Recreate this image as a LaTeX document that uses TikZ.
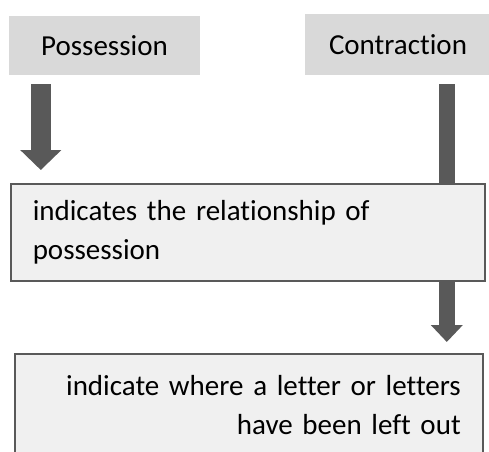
\documentclass[tikz,border=0pt]{standalone}
\usepackage{fontspec}
\setmainfont{Carlito}[Ligatures=NoCommon]
\usetikzlibrary{positioning,arrows.meta,backgrounds}

\newlength\unitL
\setlength\unitL{1pt}

\definecolor{headgray}{HTML}{D9D9D9}
\definecolor{boxgray}{HTML}{F0F0F0}
\definecolor{arrowgray}{HTML}{595959}

\begin{document}
\begin{tikzpicture}[x=\unitL, y=-\unitL, font=\fontsize{29}{39}\selectfont,
		headbox/.style={fill=headgray, inner sep=0pt},
		defbox/.style={draw=arrowgray, line width=1.5pt, fill=boxgray, inner xsep=22pt, inner ysep=0pt},
		bigarrow/.style={draw=arrowgray, line width=20pt, -{Triangle[length=20pt, width=40pt]}},
		slimarrow/.style={draw=arrowgray, line width=16pt, -{Triangle[length=17pt, width=31pt]}}]
	
	% === Page frame ===
	\useasboundingbox (0,0) rectangle (489,451);
	\clip (0,0) rectangle (489,451);
	
	% === Headings ===
	\node[headbox, minimum width=191pt, minimum height=59pt] (poss) at (104.5,45.5) {Possession};
	\node[headbox, minimum width=186pt, minimum height=61pt] (contr) at (398,44.5) {Contraction};
	
	% === Definitions ===
	\node[defbox, anchor=north west, text width=430pt, align=left, minimum height=97pt] (rel) at (10,183)
		{indicates the relationship of\\possession};
	\node[defbox, anchor=north west, text width=424pt, align=right, minimum height=102pt] (omit) at (14,353)
		{indicate where a letter or letters\\have been left out};
	
	% === Arrows ===
	\draw[bigarrow, shorten >=13pt] ([xshift=32pt, yshift=-9pt]poss.south west) -- ([xshift=32pt]poss.south west |- rel.north);
	
	\begin{scope}[on background layer]
		\draw[slimarrow, shorten >=11pt] ([xshift=142pt, yshift=-9pt]contr.south west) -- ([xshift=142pt]contr.south west |- omit.north);  % runs behind the first box
	\end{scope}
	
\end{tikzpicture}
\end{document}
